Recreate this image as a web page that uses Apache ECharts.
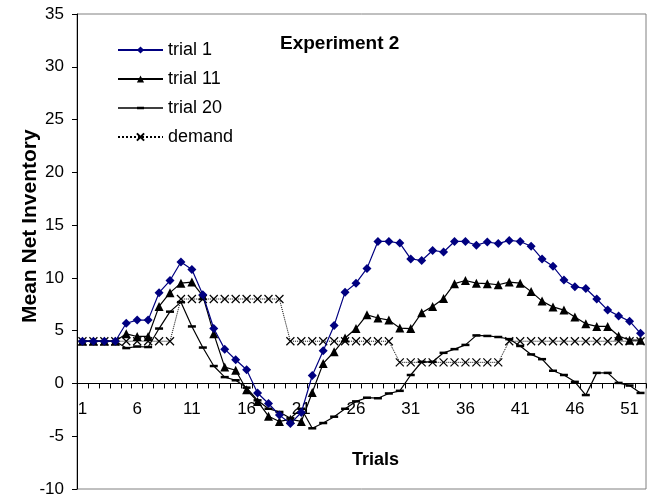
<!DOCTYPE html>
<html>
<head>
<meta charset="utf-8">
<script src="https://cdn.jsdelivr.net/npm/echarts@6/dist/echarts.min.js"></script>
<style>
  html, body { margin: 0; padding: 0; background: #fff; }
  #chart { width: 649px; height: 499px; }
</style>
</head>
<body>
<div id="chart"></div>
<script>
var trials = [];
for (var i = 1; i <= 52; i++) trials.push(String(i));

var trial1 = [4, 4, 4, 4, 5.7, 6.0, 6.0, 8.6, 9.75, 11.5,
    10.8, 8.4, 5.2, 3.25, 2.25, 1.3, -0.9, -1.9, -3.0, -3.8,
    -2.75, 0.75, 3.1, 5.5, 8.65, 9.5, 10.9, 13.45, 13.45, 13.3,
    11.8, 11.65, 12.6, 12.45, 13.45, 13.45, 13.1, 13.4, 13.25, 13.55,
    13.45, 13.0, 11.8, 11.1, 9.8, 9.15, 9.0, 8.0, 6.95, 6.4,
    5.9, 4.75];
var trial11 = [4, 4, 4, 4, 4.7, 4.45, 4.45, 7.3, 8.6, 9.5,
    9.6, 8.3, 4.7, 1.55, 1.25, -0.6, -1.7, -3.1, -3.6, -3.4,
    -3.6, -0.85, 1.9, 3.0, 4.3, 5.2, 6.5, 6.2, 6.0, 5.25,
    5.2, 6.7, 7.3, 8.05, 9.45, 9.75, 9.5, 9.45, 9.35, 9.6,
    9.5, 8.7, 7.8, 7.25, 6.95, 6.3, 5.65, 5.4, 5.4, 4.5,
    4.1, 4.1];
var trial20 = [4, 4, 4, 4, 3.35, 3.5, 3.45, 5.2, 6.8, 7.7,
    5.4, 3.4, 1.65, 0.6, 0.3, -0.4, -1.6, -2.4, -2.7, -3.3,
    -2.4, -4.25, -3.75, -3.15, -2.4, -1.7, -1.35, -1.4, -0.95, -0.7,
    0.8, 2.05, 2.05, 2.9, 3.25, 3.65, 4.55, 4.5, 4.4, 4.2,
    3.55, 2.75, 2.3, 1.2, 0.8, 0.15, -1.1, 1.0, 1.0, 0.05,
    -0.2, -0.9];
var demand = [4, 4, 4, 4, 4, 4, 4, 4, 4, 8,
    8, 8, 8, 8, 8, 8, 8, 8, 8, 4,
    4, 4, 4, 4, 4, 4, 4, 4, 4, 2,
    2, 2, 2, 2, 2, 2, 2, 2, 2, 4,
    4, 4, 4, 4, 4, 4, 4, 4, 4, 4,
    4, 4];

var font = 'Liberation Sans, Arial, sans-serif';
var crossPath = 'path://M0,0L10,10M10,0L0,10';
// legend icon for trial 20: full-width line with a small dash marker in the middle
var dashLegend = 'path://M0,0L0,0M0,3.8H45V5.2H0ZM19,3.2H26V5.8H19ZM45,9L45,9';

// grid geometry: plot from y=14 (35) to y=489 (-10)
var gridTop = 14, gridBottom = 10;
var yMin = -10, yMax = 35;
var zeroOffset = (499 - gridTop - gridBottom) * (0 - yMin) / (yMax - yMin);

var chart = echarts.init(document.getElementById('chart'));
var option = {
    animation: false,
    backgroundColor: '#fff',
    textStyle: { fontFamily: font },
    grid: {
        left: 77, right: 3, top: gridTop, bottom: gridBottom,
        containLabel: false,
        outerBoundsMode: 'none',
        show: true,
        borderColor: '#808080',
        borderWidth: 1
    },
    legend: {
        orient: 'vertical',
        left: 112,
        top: 35,
        itemWidth: 45,
        itemHeight: 9,
        itemGap: 9,
        textStyle: { fontSize: 18, color: '#000', fontFamily: font, lineHeight: 20 },
        data: [
            { name: 'trial 1' },
            { name: 'trial 11' },
            { name: 'trial 20', icon: dashLegend, itemStyle: { color: '#000' } },
            { name: 'demand' }
        ]
    },
    graphic: [
        {
            type: 'text', left: 280, top: 34,
            style: { text: 'Experiment 2', font: 'bold 19px ' + font, fill: '#000' }
        },
        {
            type: 'text', left: 352, top: 451,
            style: { text: 'Trials', font: 'bold 18px ' + font, fill: '#000' }
        },
        {
            type: 'text', x: 20, y: 323, rotation: Math.PI / 2,
            style: { text: 'Mean Net Inventory', font: 'bold 21px ' + font, fill: '#000' }
        }
    ],
    xAxis: {
        type: 'category',
        data: trials,
        boundaryGap: true,
        offset: -zeroOffset,
        axisLine: { onZero: false, lineStyle: { color: '#000', width: 1 } },
        axisTick: { show: true, interval: 0, length: 5, lineStyle: { color: '#000' } },
        axisLabel: { interval: 4, margin: 17, fontSize: 17, color: '#000', fontFamily: font },
        splitLine: { show: false }
    },
    yAxis: {
        type: 'value',
        min: yMin, max: yMax, interval: 5,
        axisLine: { show: true, onZero: false, lineStyle: { color: '#000', width: 1 } },
        axisTick: { show: true, length: 5, lineStyle: { color: '#000' } },
        axisLabel: { margin: 13, fontSize: 17, color: '#000', fontFamily: font },
        splitLine: { show: false }
    },
    series: [
        {
            name: 'trial 1', type: 'line', data: trial1,
            symbol: 'diamond', symbolSize: 9, showAllSymbol: true,
            lineStyle: { color: '#000080', width: 1.2 },
            itemStyle: { color: '#000080' },
            z: 4
        },
        {
            name: 'trial 11', type: 'line', data: trial11,
            symbol: 'triangle', symbolSize: 9, showAllSymbol: true,
            lineStyle: { color: '#000', width: 1.2 },
            itemStyle: { color: '#000' },
            z: 3
        },
        {
            name: 'trial 20', type: 'line', data: trial20,
            symbol: 'rect', symbolSize: [8, 2.5], showAllSymbol: true,
            lineStyle: { color: '#000', width: 1.2 },
            itemStyle: { color: '#000' },
            z: 2
        },
        {
            name: 'demand', type: 'line', data: demand,
            symbol: crossPath, symbolSize: 8, showAllSymbol: true,
            lineStyle: { color: '#000', width: 1, type: 'dotted' },
            itemStyle: { color: 'none', borderColor: '#000', borderWidth: 1.2 },
            z: 1
        }
    ]
};
chart.setOption(option);
</script>
</body>
</html>
